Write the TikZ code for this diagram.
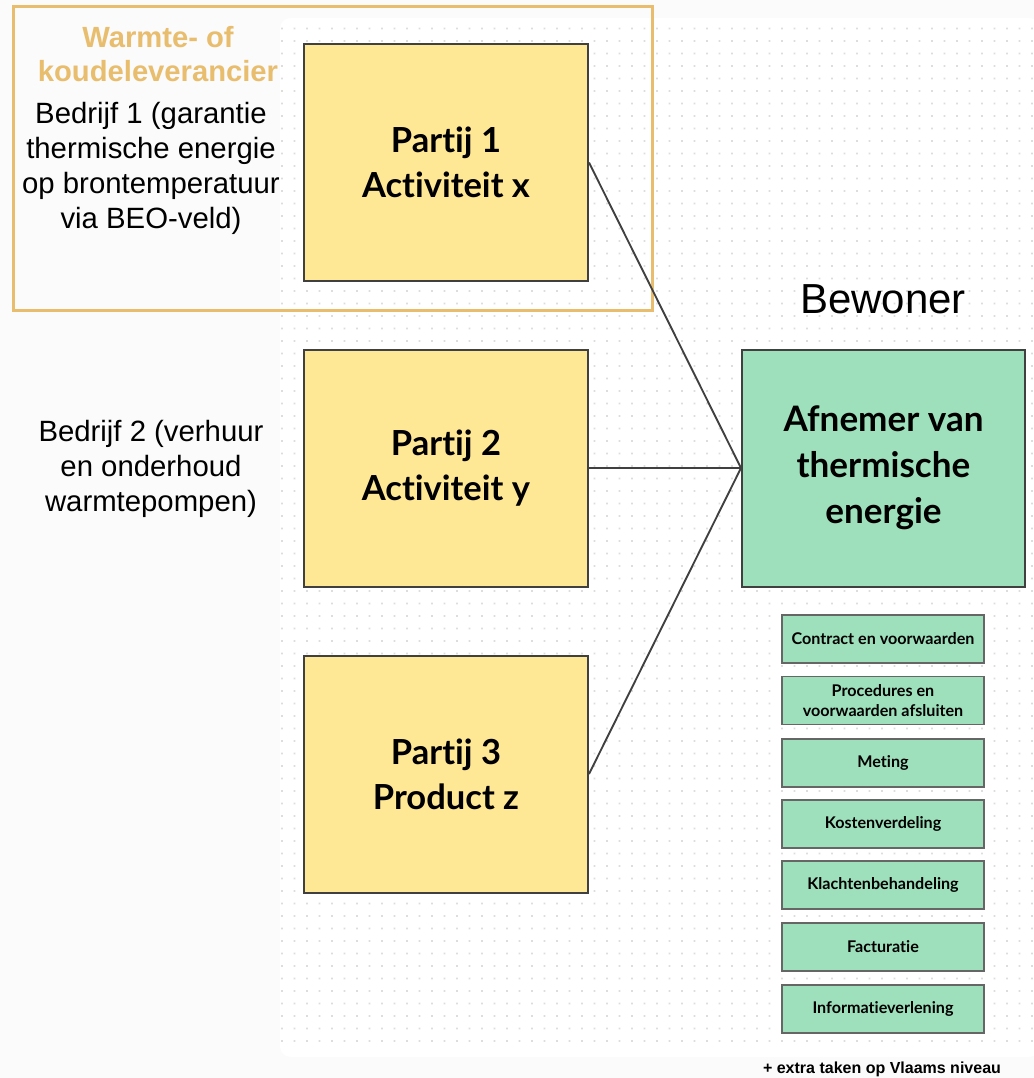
\documentclass[tikz,border=0pt]{standalone}
\usepackage{fontspec}
\setmainfont{Liberation Sans}
\newfontfamily\boxfont{Lato}[Ligatures=CommonOff]
\usepackage{tikz}
\usetikzlibrary{positioning}
\definecolor{goud}{HTML}{E8BE6E}
\definecolor{geel}{HTML}{FFE895}
\definecolor{groen}{HTML}{9DE0BB}
\definecolor{rand}{HTML}{404040}
\definecolor{achtergrond}{HTML}{FBFBFB}
\definecolor{stip}{HTML}{DDDDDD}
\newcommand{\fs}[2]{\fontsize{#1}{#2}\selectfont}
\tikzset{
  partij/.style={draw=rand,line width=1.5pt,fill=geel,minimum width=213pt,minimum height=177.75pt,
    align=center,font=\boxfont\bfseries\fs{25.9}{33.5}},
  taak/.style={draw=rand!80,line width=0.9pt,fill=groen,minimum width=151.5pt,minimum height=36pt,
    align=center,font=\boxfont\bfseries\fs{12.1}{15.5}},
  bedrijf/.style={align=center,font=\fs{22}{26.25}},
  link/.style={draw=rand,line width=1.4pt}
}
\begin{document}
\begin{tikzpicture}[x=0.75pt,y=-0.75pt]
\useasboundingbox (0,0) rectangle (1034,1078);
%background and dotted canvas
\fill[achtergrond](0,0)rectangle(1034,1078);
\fill[white,rounded corners=8](280,18)rectangle(1040,1057);
\foreach \i in {0,...,60}
{
\fill[stip] \foreach \j in {0,...,81}{(281+\i*12.5,27.5+\j*12.5) rectangle ++(1.8,1.8)};
}
%frame of the supplier
\draw[goud,line width=2.25pt](13,6)rectangle(652,310);
\node[font=\bfseries\fs{21.9}{25.5},text=goud,align=center] (titel) at (158,54) {Warmte- of\\koudeleverancier};
\node[bedrijf] (bedrijf1) at (151,168.5) {Bedrijf 1 (garantie\\thermische energie\\op brontemperatuur\\via BEO-veld)};
\node[bedrijf] (bedrijf2) at (151,468.5) {Bedrijf 2 (verhuur\\en onderhoud\\warmtepompen)};
%parties
\node[partij] (p1) at (446,162.5) {Partij 1\\Activiteit x};
\node[partij] (p2) at (446,468) {Partij 2\\Activiteit y};
\node[partij] (p3) at (446,774) {Partij 3\\Product z};
%resident
\node[font=\fs{31.5}{34}] (bewoner) at (883,299) {Bewoner};
\node[partij,fill=groen,minimum width=212.25pt,font=\boxfont\bfseries\fs{26.3}{34.5}] (afnemer) at (883.5,468) {Afnemer van\\thermische\\energie};
\draw[link](p1.east)--(afnemer.west);
\draw[link](p2.east)--(afnemer.west);
\draw[link](p3.east)--(afnemer.west);
%tasks
\node[taak] (t1) at (883,639) {Contract en voorwaarden};
\node[taak] (t2) at (883,700.5) {Procedures en\\voorwaarden afsluiten};
\node[taak] (t3) at (883,763) {Meting};
\node[taak] (t4) at (883,824) {Kostenverdeling};
\node[taak] (t5) at (883,885) {Klachtenbehandeling};
\node[taak] (t6) at (883,947) {Facturatie};
\node[taak] (t7) at (883,1009) {Informatieverlening};
\node[font=\bfseries\fs{12}{14},anchor=base,inner sep=0pt] (extra) at (882,1073.5) {+ extra taken op Vlaams niveau};
\end{tikzpicture}
\end{document}
